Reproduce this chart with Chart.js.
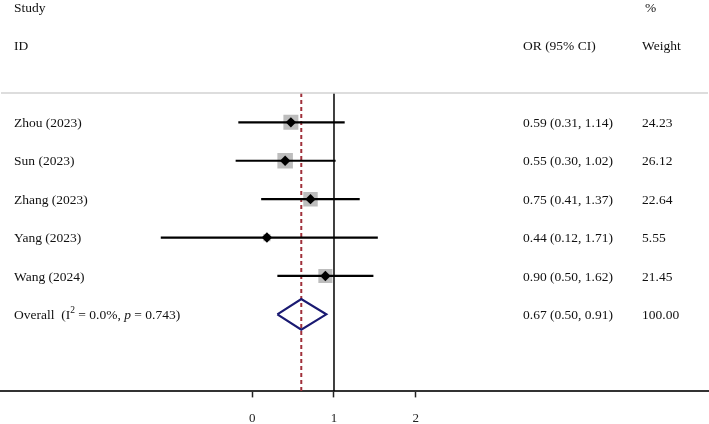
<!DOCTYPE html>
<html>
<head>
<meta charset="utf-8">
<script src="https://cdn.jsdelivr.net/npm/chart.js@4.4.1/dist/chart.umd.min.js"></script>
<style>
html,body{margin:0;padding:0;background:#fff;}
#wrap{position:relative;width:709px;height:424px;}
</style>
</head>
<body>
<div id="wrap"><canvas id="c" width="709" height="424"></canvas></div>
<script>
// ---- data ----
const studies = ["Zhou (2023)", "Sun (2023)", "Zhang (2023)", "Yang (2023)", "Wang (2024)"];
const orValues = [0.59, 0.55, 0.75, 0.44, 0.90];
const lowerCI = [0.31, 0.30, 0.41, 0.12, 0.50];
const upperCI = [1.14, 1.02, 1.37, 1.71, 1.62];
const weights = [24.23, 26.12, 22.64, 5.55, 21.45];
const overallOR = 0.67;
const overallLower = 0.50;
const overallUpper = 0.91;
const overallWeight = 100.00;
const overallI2 = "0.0%";
const overallP = "0.743";
const tickValues = [-1, 0, 1];      // positions on the ln(OR) axis
const tickLabels = ["0", "1", "2"]; // labels printed under them

// ---- derived ----
const ln = Math.log;
const overallRow = studies.length;
const Y_MIN = -0.764, Y_MAX = 7.006;
const FONT = '"Liberation Serif", "Times New Roman", serif';

const datasets = [];
// null line at OR = 1
datasets.push({type:'line', data:[{x:0,y:Y_MIN},{x:0,y:Y_MAX}], borderColor:'#000', borderWidth:1.5, pointRadius:0, order:5});
// overall effect dashed line
datasets.push({type:'line', data:[{x:ln(overallOR),y:Y_MIN},{x:ln(overallOR),y:Y_MAX}], borderColor:'#a0303a', borderWidth:2, borderDash:[4,3], pointRadius:0, order:4});
// weight boxes
datasets.push({type:'scatter', data:orValues.map((v,i)=>({x:ln(v),y:i})), pointStyle:'rect', pointRadius:weights.map(w=>2.15*Math.sqrt(w)), backgroundColor:'#bdbdbd', borderWidth:0, order:3});
// CI lines
studies.forEach((s,i)=>{
  datasets.push({type:'line', data:[{x:ln(lowerCI[i]),y:i},{x:ln(upperCI[i]),y:i}], borderColor:'#000', borderWidth:2.2, pointRadius:0, order:2});
});
// point estimates
datasets.push({type:'scatter', data:orValues.map((v,i)=>({x:ln(v),y:i})), pointStyle:'rectRot', pointRadius:5.2, backgroundColor:'#000', borderColor:'#000', borderWidth:0, order:1});
// overall diamond
const dh = 0.40;
datasets.push({type:'line', data:[
  {x:ln(overallLower),y:overallRow},{x:ln(overallOR),y:overallRow-dh},{x:ln(overallUpper),y:overallRow},{x:ln(overallOR),y:overallRow+dh},{x:ln(overallLower),y:overallRow}
], borderColor:'#1a1a72', borderWidth:2.2, pointRadius:0, fill:false, tension:0, order:0});

const textPlugin = {
  id:'texts',
  afterDraw(chart){
    const ctx = chart.ctx, ys = chart.scales.y;
    const py = v => ys.getPixelForValue(v) + 1.2;
    ctx.save();
    // top separator line
    ctx.strokeStyle = '#d2d2d2'; ctx.lineWidth = 1.5;
    ctx.beginPath(); ctx.moveTo(1, chart.chartArea.top); ctx.lineTo(708, chart.chartArea.top); ctx.stroke();
    ctx.fillStyle = '#111';
    ctx.textBaseline = 'middle';
    const f = '13.5px ' + FONT;
    ctx.font = f;
    const xL = 14, xOR = 523, xW = 642;
    ctx.fillText('Study', xL, py(-3));
    ctx.fillText('ID', xL, py(-2));
    ctx.fillText('%', 645, py(-3));
    ctx.fillText('OR (95% CI)', xOR, py(-2));
    ctx.fillText('Weight', xW, py(-2));
    studies.forEach((s,i)=>{
      const y = py(i);
      ctx.fillText(s, xL, y);
      ctx.fillText(orValues[i].toFixed(2)+' ('+lowerCI[i].toFixed(2)+', '+upperCI[i].toFixed(2)+')', xOR, y);
      ctx.fillText(weights[i].toFixed(2), xW, y);
    });
    const yo = py(overallRow);
    let x = xL;
    const put = (t, font, dy) => { ctx.font = font; ctx.fillText(t, x, yo + (dy||0)); x += ctx.measureText(t).width; };
    put('Overall  (I', f);
    put('2', '9.5px ' + FONT, -5);
    put(' = ' + overallI2 + ', ', f);
    put('p', 'italic 13.5px ' + FONT);
    put(' = ' + overallP + ')', f);
    ctx.font = f;
    ctx.fillText(overallOR.toFixed(2)+' ('+overallLower.toFixed(2)+', '+overallUpper.toFixed(2)+')', xOR, yo);
    ctx.fillText(overallWeight.toFixed(2), xW, yo);
    ctx.restore();
  }
};

new Chart(document.getElementById('c'), {
  data:{datasets},
  options:{
    responsive:false, animation:false, devicePixelRatio:1,
    layout:{autoPadding:false, padding:{top:93,left:1,right:1,bottom:-15}},
    plugins:{legend:{display:false}, tooltip:{enabled:false}},
    scales:{
      x:{type:'linear', min:-4.076, max:4.578,
        afterBuildTicks(scale){ scale.ticks = tickValues.map(v=>({value:v})); },
        ticks:{callback:(v,i)=>tickLabels[i], color:'#222', font:{family:FONT, size:13}, padding:13, maxRotation:0, autoSkip:false},
        grid:{display:true, drawOnChartArea:false, drawTicks:true, tickLength:6, color:'#222', tickWidth:1.5},
        border:{display:true, color:'#333', width:2}
      },
      y:{type:'linear', display:false, reverse:true, min:Y_MIN, max:Y_MAX}
    }
  },
  plugins:[textPlugin]
});
</script>
</body>
</html>
